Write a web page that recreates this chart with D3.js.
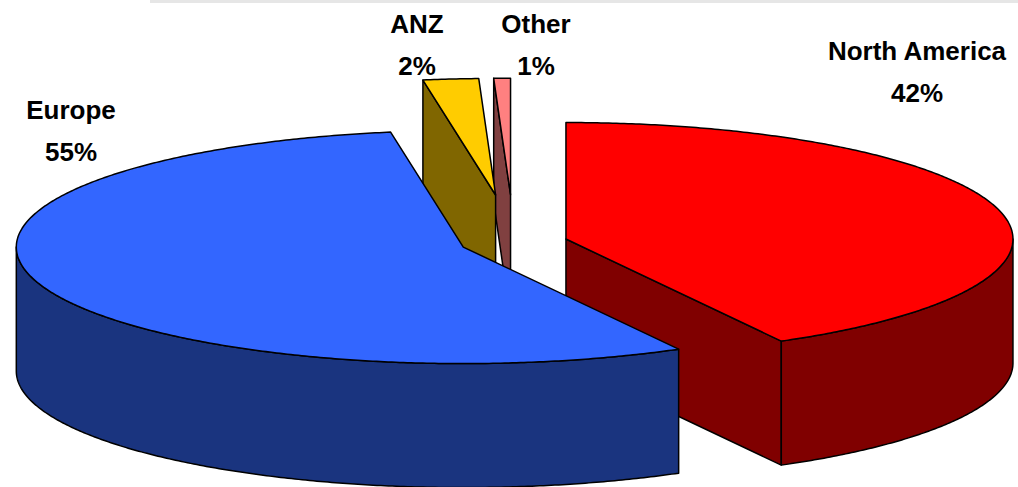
<!DOCTYPE html>
<html>
<head>
<meta charset="utf-8">
<script src="https://cdn.jsdelivr.net/npm/d3@7"></script>
<style>
  html, body { margin: 0; padding: 0; background: #ffffff; }
  svg { display: block; }
  .lbl { font-family: "Liberation Sans", Arial, sans-serif; font-weight: bold; font-size: 26px; fill: #000; }
</style>
</head>
<body>
<svg id="chart" width="1018" height="487"></svg>
<script>
// Regional split of sales, in percent
const categories = ["North America", "Europe", "ANZ", "Other"];
const shares = [42.0, 55.4, 2.0, 0.6];

// How far each slice is pulled out from the centre (fraction of radius)
const explode = [0.12, 0.12, 0.41, 0.41];

// Top and side colours of each slice
const topColors  = ["#ff0000", "#3366ff", "#ffcc00", "#ff8080"];
const sideColors = ["#800000", "#1a347f", "#806600", "#804040"];

// Label anchor points (centre x, baseline of first line)
const labelX = [917, 71, 417, 536];
const labelY = [60, 119, 33, 33];

const W = 1018, H = 487;
const cx = 514, cy = 242.5, rx = 447, ry = 116.5, depth = 124;

const svg = d3.select("#chart");

// faint frame edge along the top
svg.append("rect").attr("x", 150).attr("y", 0).attr("width", W - 150).attr("height", 3)
  .attr("fill", "#e6e6e6");

// Unit-disc coordinates projected onto the tilted ellipse
const xs = d3.scaleLinear().domain([-1, 1]).range([cx - rx, cx + rx]);
const ys = d3.scaleLinear().domain([-1, 1]).range([cy - ry, cy + ry]);
const zs = d3.scaleLinear().domain([0, 1]).range([0, depth]);

const pie = d3.pie().sort(null).value(d => d.v).startAngle(0).endAngle(2 * Math.PI);
const slices = pie(categories.map((c, i) => ({ c, v: shares[i], i })));

function pt(s, theta, r, z) {
  const mid = (s.startAngle + s.endAngle) / 2;
  const e = explode[s.data.i];
  const u = e * Math.sin(mid) + r * Math.sin(theta);
  const v = -e * Math.cos(mid) - r * Math.cos(theta);
  return [xs(u), ys(v) + zs(z)];
}

function arcPts(s, a0, a1, z) {
  const n = Math.max(2, Math.ceil(Math.abs(a1 - a0) / (Math.PI / 360)));
  return d3.range(n + 1).map(k => pt(s, a0 + (a1 - a0) * k / n, 1, z));
}

const line = d3.line().curve(d3.curveLinear);

function drawPoly(points, fill) {
  svg.append("path")
    .attr("d", line(points) + "Z")
    .attr("fill", fill)
    .attr("stroke", "#000")
    .attr("stroke-width", 1.5)
    .attr("stroke-linejoin", "round");
}

// Paint from back to front: slices further away (smaller centre y) first
const order = slices.slice().sort((a, b) => {
  const ya = pt(a, 0, 0, 0)[1], yb = pt(b, 0, 0, 0)[1];
  return ya - yb;
});

order.forEach(s => {
  const i = s.data.i;
  const a0 = s.startAngle, a1 = s.endAngle;
  const c0 = pt(s, 0, 0, 0), c1 = pt(s, 0, 0, 1);

  // cut face at the start angle
  if (Math.sin(a0) < -1e-6) {
    drawPoly([c0, pt(s, a0, 1, 0), pt(s, a0, 1, 1), c1], sideColors[i]);
  }
  // cut face at the end angle
  if (Math.sin(a1) > 1e-6) {
    drawPoly([c0, pt(s, a1, 1, 0), pt(s, a1, 1, 1), c1], sideColors[i]);
  }
  // outer rim on the front half (90deg .. 270deg)
  const r0 = Math.max(a0, Math.PI / 2), r1 = Math.min(a1, 3 * Math.PI / 2);
  if (r1 > r0) {
    const topArc = arcPts(s, r0, r1, 0);
    const botArc = arcPts(s, r1, r0, 1);
    drawPoly(topArc.concat(botArc), sideColors[i]);
  }
  // top face
  drawPoly([c0].concat(arcPts(s, a0, a1, 0)), topColors[i]);
});

// Labels: name and rounded share
const fmt = d3.format(".0f");
slices.forEach(s => {
  const i = s.data.i;
  const t = svg.append("text").attr("class", "lbl").attr("text-anchor", "middle");
  t.append("tspan").attr("x", labelX[i]).attr("y", labelY[i]).text(categories[i]);
  t.append("tspan").attr("x", labelX[i]).attr("y", labelY[i] + 42).text(fmt(shares[i]) + "%");
});
</script>
</body>
</html>
